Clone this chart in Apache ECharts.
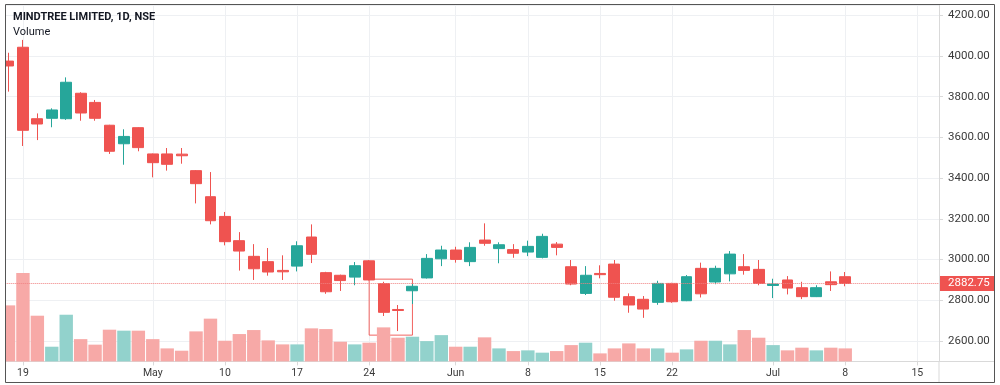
<!DOCTYPE html>
<html><head><meta charset="utf-8">
<script src="https://cdn.jsdelivr.net/npm/echarts@6/dist/echarts.min.js"></script>
<style>html,body{margin:0;padding:0;background:#fff}#c{width:1000px;height:385px}</style>
</head><body><div id="c"></div>
<script>
// ---- data ----
const title = 'MINDTREE LIMITED, 1D, NSE';
const subTitle = 'Volume';
const dates = ['2021-04-16','2021-04-19','2021-04-20','2021-04-22','2021-04-23','2021-04-26','2021-04-27','2021-04-28','2021-04-29','2021-04-30',
  '2021-05-03','2021-05-04','2021-05-05','2021-05-06','2021-05-07','2021-05-10','2021-05-11','2021-05-12','2021-05-13','2021-05-14',
  '2021-05-17','2021-05-18','2021-05-19','2021-05-20','2021-05-21','2021-05-24','2021-05-25','2021-05-26','2021-05-27','2021-05-28',
  '2021-05-31','2021-06-01','2021-06-02','2021-06-03','2021-06-04','2021-06-07','2021-06-08','2021-06-09','2021-06-10','2021-06-11',
  '2021-06-14','2021-06-15','2021-06-16','2021-06-17','2021-06-18','2021-06-21','2021-06-22','2021-06-23','2021-06-24','2021-06-25',
  '2021-06-28','2021-06-29','2021-06-30','2021-07-01','2021-07-02','2021-07-05','2021-07-06','2021-07-07','2021-07-08',
  '2021-07-09','2021-07-12','2021-07-13','2021-07-14','2021-07-15','2021-07-16'];
const opens  = [3975,4043,3692,3694,3692,3817,3772,3660,3569,3648, 3519,3519,3518,3437,3309,3212,3093,3016,2990,2947,
  2968,3111,2936,2923,2914,2994,2882,2755,2847,2910, 3004,3047,2990,3096,3054,3049,3037,3011,3076,2965,
  2834,2932,2978,2818,2805,2790,2883,2798,2957,2890, 2930,2965,2952,2873,2900,2862,2818,2891,2916];
const closes = [3951,3635,3666,3735,3871,3720,3694,3532,3605,3550, 3476,3468,3510,3373,3191,3088,3042,2955,2939,2940,
  3068,3026,2842,2897,2970,2900,2741,2750,2869,3006, 3047,3001,3060,3080,3073,3031,3065,3114,3060,2880,
  2923,2926,2815,2777,2757,2883,2793,2916,2832,2957, 3027,2947,2883,2880,2860,2818,2862,2877,2882.75];
const lows   = [3825,3558,3587,3650,3686,3682,3682,3519,3466,3532, 3404,3437,3471,3276,3173,3070,2946,2900,2921,2900,
  2942,2983,2832,2846,2874,2898,2723,2649,2782,2907, 2968,2985,2968,3068,2982,3009,3017,3006,3021,2874,
  2826,2908,2798,2739,2714,2778,2788,2796,2814,2879, 2893,2926,2874,2811,2829,2806,2816,2846,2869];
const highs  = [4016,4079,3718,3743,3895,3822,3784,3662,3640,3650, 3521,3548,3548,3440,3430,3234,3135,3076,3057,3021,
  3090,3173,2940,2926,2988,2998,2891,2777,2880,3027, 3068,3063,3085,3178,3085,3076,3093,3127,3086,2998,
  2968,2972,2998,2834,2821,2896,2886,2924,2985,2970, 3042,3027,2998,2906,2919,2891,2874,2942,2939];
// volume, thousands of shares
const volumes = [629,992,513,165,524,250,188,356,345,345, 250,146,120,337,480,232,307,352,236,191,
  191,371,363,221,191,210,382,266,277,228, 295,165,165,270,146,116,124,98,116,183,
  210,90,146,202,146,146,98,135,232,232, 191,352,266,183,124,154,124,154,146];
const tickDates = ['2021-04-19','2021-05-03','2021-05-10','2021-05-17','2021-05-24','2021-06-01','2021-06-08','2021-06-15','2021-06-22','2021-07-01','2021-07-08','2021-07-15'];
const tickTexts = ['19','May','10','17','24','Jun','8','15','22','Jul','8','15'];
const lastPrice = 2882.75;
const boxFrom = ['2021-05-24', 2904];
const boxTo   = ['2021-05-27', 2629];

// ---- chart ----
const UP = '#26a69a', DOWN = '#ef5350', UPV = '#92d2cc', DOWNV = '#f7a9a7';
const FONT = 'Roboto, "Noto Sans", sans-serif';
const tickIdx = new Set(tickDates.map(d => dates.indexOf(d)));
const tickText = {}; tickDates.forEach((d, k) => { tickText[d] = tickTexts[k]; });
const candle = opens.map((o, i) => [o, closes[i], lows[i], highs[i]]);
const vol = volumes.map((v, i) => ({ value: v, itemStyle: { color: closes[i] >= opens[i] ? UPV : DOWNV } }));
const showTick = (i) => tickIdx.has(i);

const chart = echarts.init(document.getElementById('c'), null, { renderer: 'canvas' });
chart.setOption({
  animation: false,
  backgroundColor: '#fff',
  textStyle: { fontFamily: FONT },
  title: [
    { text: title, left: 13, top: 12, padding: 0, textStyle: { fontFamily: FONT, fontSize: 11, fontWeight: 'bold', color: '#131722' } },
    { text: subTitle, left: 13, top: 27, padding: 0, textStyle: { fontFamily: FONT, fontSize: 11, fontWeight: 'normal', color: '#131722' } }
  ],
  grid: { left: 1.3, top: 5.1, right: 61, bottom: 23.6, containLabel: false },
  xAxis: {
    type: 'category', data: dates, boundaryGap: true,
    axisLine: { lineStyle: { color: '#d9d9d9' } },
    axisTick: { show: true, alignWithLabel: true, interval: showTick, length: 4, lineStyle: { color: '#d9d9d9' } },
    axisLabel: { interval: showTick, formatter: v => tickText[v] || '', color: '#3a3a3a', fontSize: 10.5, margin: 6, fontFamily: FONT },
    splitLine: { show: true, alignWithLabel: true, interval: showTick, lineStyle: { color: '#eef0f3' } }
  },
  yAxis: [
    {
      type: 'value', position: 'right', min: 2500, max: 4250, splitNumber: 8, minInterval: 200, maxInterval: 200, scale: true,
      axisLine: { show: true, lineStyle: { color: '#d9d9d9' } },
      axisTick: { show: true, length: 4, lineStyle: { color: '#d9d9d9' } },
      axisLabel: { formatter: v => (v % 200 === 0 ? v.toFixed(2) : ''), color: '#3a3a3a', fontSize: 11.5, margin: 9, showMinLabel: false, showMaxLabel: false, fontFamily: FONT },
      splitLine: { show: true, lineStyle: { color: '#eef0f3' } }
    },
    { type: 'value', min: 0, max: 4000, show: false, splitLine: { show: false } }
  ],
  series: [
    { type: 'bar', yAxisIndex: 1, data: vol, barWidth: 13.4, z: 1, silent: true },
    {
      type: 'candlestick', data: candle, barWidth: 11.4, z: 3,
      itemStyle: { color: UP, color0: DOWN, borderColor: UP, borderColor0: DOWN, borderWidth: 1 },
      markLine: {
        silent: true, symbol: ['none', 'none'], animation: false,
        lineStyle: { color: '#f08080', type: 'dotted', width: 1 },
        label: { show: true, position: 'end', formatter: lastPrice.toFixed(2), backgroundColor: DOWN, color: '#fff',
                 padding: [2, 5, 1, 8], fontSize: 11.5, distance: 1, fontFamily: FONT },
        data: [{ yAxis: lastPrice }]
      },
      markArea: {
        silent: true,
        itemStyle: { color: 'rgba(0,0,0,0)', borderColor: DOWN, borderWidth: 1, opacity: 0.9 },
        data: [[{ xAxis: boxFrom[0], yAxis: boxFrom[1] }, { xAxis: boxTo[0], yAxis: boxTo[1] }]]
      }
    }
  ],
  graphic: [
    { type: 'rect', silent: true, z: 100, shape: { x: 0, y: 0, width: 5, height: 385 }, style: { fill: '#fff' } },
    { type: 'line', silent: true, z: 100, shape: { x1: 939, y1: 361, x2: 939, y2: 382 }, style: { stroke: '#d9d9d9', lineWidth: 1 } },
    { type: 'line', silent: true, z: 100, shape: { x1: 939, y1: 361.5, x2: 994, y2: 361.5 }, style: { stroke: '#d9d9d9', lineWidth: 1 } },
    { type: 'rect', silent: true, z: 101, shape: { x: 5.5, y: 4.5, width: 989, height: 378 }, style: { fill: 'none', stroke: '#555', lineWidth: 1 } }
  ]
});
</script>
</body></html>
